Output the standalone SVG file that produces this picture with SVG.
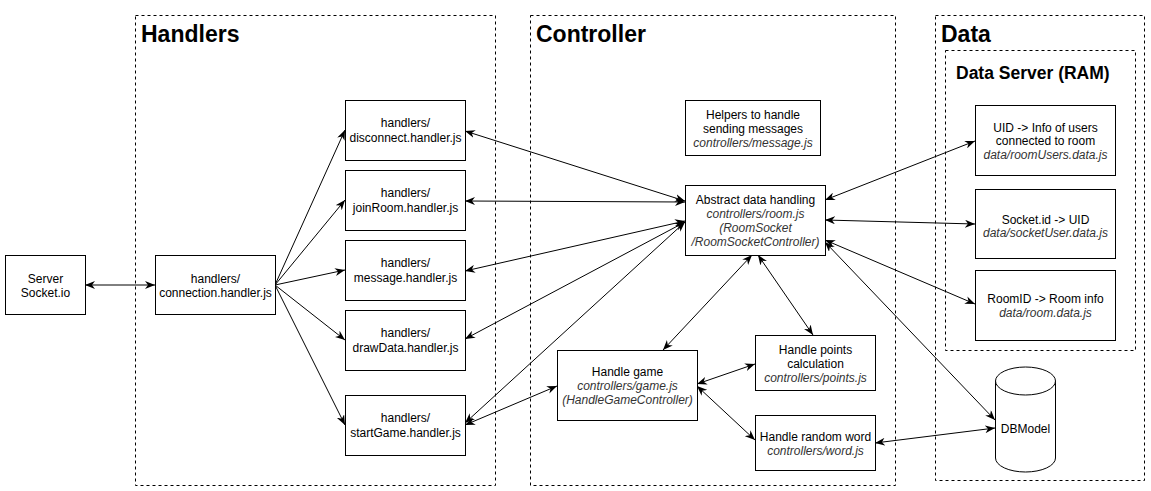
<svg xmlns="http://www.w3.org/2000/svg" width="1151" height="491" viewBox="0 0 1151 491">
<style>
text{font-family:"Liberation Sans",Arial,sans-serif;fill:#000}
.t{font-size:12px;text-anchor:middle}
.i{font-style:italic;fill:#333}
.h{font-size:23px;font-weight:bold}
.h2{font-size:17.5px;font-weight:bold}
.box{fill:#fff;stroke:#000;stroke-width:1}
.grp{fill:none;stroke:#000;stroke-width:1;stroke-dasharray:3 3}
.c line{stroke:#000;stroke-width:1}
.bi{marker-start:url(#a);marker-end:url(#a)}
.one{marker-end:url(#a)}
</style>
<defs>
<marker id="a" viewBox="0 0 10 8" refX="10" refY="4" markerWidth="10" markerHeight="8" markerUnits="userSpaceOnUse" orient="auto-start-reverse">
<path d="M0,0 L10,4 L0,8 L3,4 Z" fill="#000"/>
</marker>
</defs>
<rect width="1151" height="491" fill="#fff"/>

<g id="grp-handlers">
<rect class="grp" x="135.5" y="15.5" width="360" height="470"/>
<text class="h" x="141" y="42">Handlers</text>
</g>
<g id="grp-controller">
<rect class="grp" x="530.5" y="15.5" width="365" height="470"/>
<text class="h" x="536" y="42">Controller</text>
</g>
<g id="grp-data">
<rect class="grp" x="935.5" y="15.5" width="209" height="465"/>
<text class="h" x="941" y="42">Data</text>
</g>
<g id="grp-dataserver">
<rect class="grp" x="945.5" y="50.5" width="190" height="300"/>
<text class="h2" x="956" y="79">Data Server (RAM)</text>
</g>

<g class="c" id="connectors">
<line class="bi" x1="85" y1="285" x2="155" y2="285"/>
<line class="one" x1="275" y1="285" x2="345" y2="130"/>
<line class="one" x1="275" y1="285" x2="345" y2="200"/>
<line class="one" x1="275" y1="285" x2="345" y2="270"/>
<line class="one" x1="275" y1="285" x2="345" y2="340"/>
<line class="one" x1="275" y1="285" x2="345" y2="425"/>
<line class="bi" x1="465" y1="131" x2="685" y2="201"/>
<line class="bi" x1="465" y1="201" x2="685" y2="202"/>
<line class="bi" x1="465" y1="271" x2="685" y2="221"/>
<line class="bi" x1="465" y1="339" x2="685" y2="222"/>
<line class="bi" x1="465" y1="423" x2="685" y2="222"/>
<line class="bi" x1="465" y1="425" x2="557" y2="386"/>
<line class="bi" x1="752" y1="255" x2="663" y2="350"/>
<line class="bi" x1="758" y1="255" x2="813" y2="335"/>
<line class="bi" x1="697" y1="384" x2="755" y2="364"/>
<line class="bi" x1="697" y1="386" x2="755" y2="440"/>
<line class="bi" x1="825" y1="200" x2="975" y2="141"/>
<line class="bi" x1="825" y1="220" x2="975" y2="224"/>
<line class="bi" x1="825" y1="240" x2="975" y2="304"/>
<line class="bi" x1="825" y1="242" x2="995" y2="420"/>
<line class="bi" x1="875" y1="443" x2="995" y2="428"/>
</g>

<g id="server">
<rect class="box" x="5.5" y="255.5" width="80" height="59"/>
<text class="t" x="45.5" y="282.5">Server</text>
<text class="t" x="45.5" y="297">Socket.io</text>
</g>
<g id="connection">
<rect class="box" x="155.5" y="255.5" width="120" height="59"/>
<text class="t" x="215.5" y="282.5">handlers/</text>
<text class="t" x="215.5" y="297">connection.handler.js</text>
</g>
<g id="disconnect">
<rect class="box" x="345.5" y="100.5" width="120" height="60"/>
<text class="t" x="405.5" y="127">handlers/</text>
<text class="t" x="405.5" y="142">disconnect.handler.js</text>
</g>
<g id="joinRoom">
<rect class="box" x="345.5" y="170.5" width="120" height="60"/>
<text class="t" x="405.5" y="197">handlers/</text>
<text class="t" x="405.5" y="212">joinRoom.handler.js</text>
</g>
<g id="message">
<rect class="box" x="345.5" y="240.5" width="120" height="60"/>
<text class="t" x="405.5" y="267">handlers/</text>
<text class="t" x="405.5" y="282">message.handler.js</text>
</g>
<g id="drawData">
<rect class="box" x="345.5" y="310.5" width="120" height="60"/>
<text class="t" x="405.5" y="337">handlers/</text>
<text class="t" x="405.5" y="352">drawData.handler.js</text>
</g>
<g id="startGame">
<rect class="box" x="345.5" y="395.5" width="120" height="60"/>
<text class="t" x="405.5" y="422">handlers/</text>
<text class="t" x="405.5" y="437">startGame.handler.js</text>
</g>

<g id="helpers">
<rect class="box" x="685.5" y="100.5" width="135" height="55"/>
<text class="t" x="753" y="119">Helpers to handle</text>
<text class="t" x="753" y="133">sending messages</text>
<text class="t i" x="753" y="147">controllers/message.js</text>
</g>
<g id="abstract">
<rect class="box" x="685.5" y="185.5" width="140" height="70"/>
<text class="t" x="755.5" y="204">Abstract data handling</text>
<text class="t i" x="755.5" y="218">controllers/room.js</text>
<text class="t i" x="755.5" y="232">(RoomSocket</text>
<text class="t i" x="755.5" y="246">/RoomSocketController)</text>
</g>
<g id="game">
<rect class="box" x="557.5" y="350.5" width="140" height="70"/>
<text class="t" x="627.5" y="376">Handle game</text>
<text class="t i" x="627.5" y="390">controllers/game.js</text>
<text class="t i" x="627.5" y="404">(HandleGameController)</text>
</g>
<g id="points">
<rect class="box" x="755.5" y="335.5" width="120" height="55"/>
<text class="t" x="815.5" y="354">Handle points</text>
<text class="t" x="815.5" y="368">calculation</text>
<text class="t i" x="815.5" y="382">controllers/points.js</text>
</g>
<g id="word">
<rect class="box" x="755.5" y="415.5" width="120" height="55"/>
<text class="t" x="815.5" y="441">Handle random word</text>
<text class="t i" x="815.5" y="455">controllers/word.js</text>
</g>

<g id="roomUsers">
<rect class="box" x="975.5" y="105.5" width="140" height="70"/>
<text class="t" x="1045.5" y="131.5">UID -&gt; Info of users</text>
<text class="t" x="1045.5" y="145">connected to room</text>
<text class="t i" x="1045.5" y="158.5">data/roomUsers.data.js</text>
</g>
<g id="socketUser">
<rect class="box" x="975.5" y="189.5" width="140" height="69"/>
<text class="t" x="1045.5" y="223.5">Socket.id -&gt; UID</text>
<text class="t i" x="1045.5" y="237">data/socketUser.data.js</text>
</g>
<g id="roomData">
<rect class="box" x="975.5" y="270.5" width="140" height="70"/>
<text class="t" x="1045.5" y="303">RoomID -&gt; Room info</text>
<text class="t i" x="1045.5" y="317">data/room.data.js</text>
</g>
<g id="dbmodel">
<path class="box" d="M995.5,381 A30,14 0 0 1 1055.5,381 V458 A30,14 0 0 1 995.5,458 Z"/>
<path class="box" fill="none" d="M995.5,381 A30,14 0 0 0 1055.5,381"/>
<text class="t" x="1025.5" y="432.5">DBModel</text>
</g>
</svg>
